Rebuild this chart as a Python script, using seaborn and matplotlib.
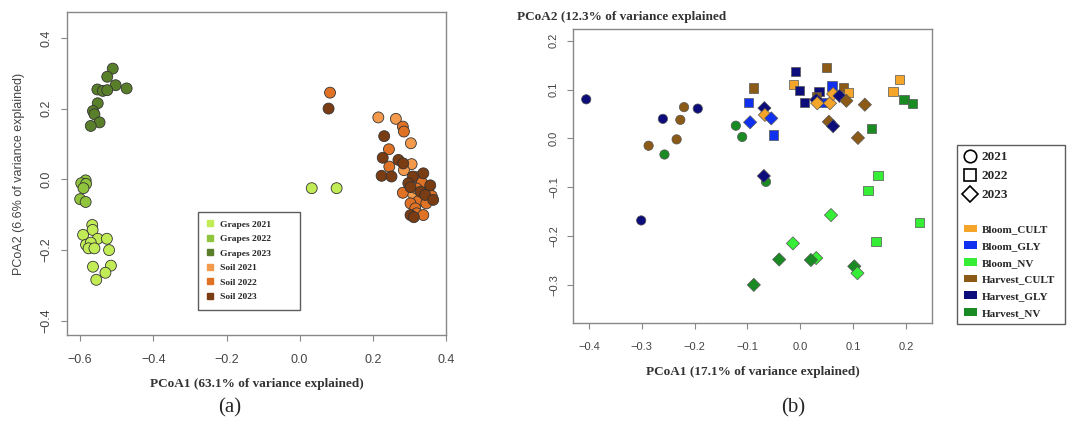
import numpy as np
import pandas as pd
import matplotlib
matplotlib.use("Agg")
import matplotlib.pyplot as plt
from matplotlib.lines import Line2D
from matplotlib.patches import Patch
import seaborn as sns

# ---------------- Panel (a) data ----------------
grapes2021_x = [-0.567, -0.566, -0.592, -0.552, -0.527, -0.584, -0.571, -0.577, -0.561, -0.521,
                -0.565, -0.516, -0.531, -0.556, 0.033, 0.101]
grapes2021_y = [-0.129, -0.143, -0.157, -0.168, -0.168, -0.185, -0.179, -0.195, -0.195, -0.200,
                -0.247, -0.244, -0.264, -0.284, -0.025, -0.025]
grapes2022_x = [-0.585, -0.597, -0.584, -0.591, -0.600, -0.585]
grapes2022_y = [-0.003, -0.011, -0.013, -0.025, -0.056, -0.064]
grapes2023_x = [-0.511, -0.526, -0.503, -0.473, -0.553, -0.538, -0.526, -0.552, -0.565, -0.561,
                -0.547, -0.571]
grapes2023_y = [0.313, 0.290, 0.266, 0.257, 0.254, 0.250, 0.252, 0.215, 0.193, 0.184, 0.161, 0.151]
soil2021_x = [0.215, 0.263, 0.304, 0.306, 0.285, 0.309]
soil2021_y = [0.175, 0.171, 0.102, 0.043, 0.026, -0.040]
soil2022_x = [0.083, 0.282, 0.285, 0.244, 0.245, 0.320, 0.334, 0.320, 0.282, 0.352, 0.361, 0.337,
              0.325, 0.303, 0.346, 0.316, 0.320, 0.338]
soil2022_y = [0.245, 0.149, 0.135, 0.085, 0.036, 0.006, -0.009, -0.026, -0.038, -0.035, -0.047,
              -0.049, -0.061, -0.068, -0.068, -0.082, -0.096, -0.101]
soil2023_x = [0.079, 0.231, 0.227, 0.270, 0.283, 0.224, 0.251, 0.309, 0.338, 0.297, 0.357, 0.303,
              0.331, 0.343, 0.365, 0.303, 0.312]
soil2023_y = [0.200, 0.122, 0.061, 0.055, 0.045, 0.010, 0.008, 0.008, 0.017, -0.011, -0.017, -0.022,
              -0.035, -0.044, -0.058, -0.101, -0.107]
groups_a = ["Grapes 2021", "Grapes 2022", "Grapes 2023", "Soil 2021", "Soil 2022", "Soil 2023"]
colors_a = ["#c2ec55", "#8fc43c", "#5a7f2a", "#f49a4c", "#e07226", "#7a3c12"]

# ---------------- Panel (b) data ----------------
# circles (2021)
b2021_x = [-0.405, -0.260, -0.220, -0.194, -0.227, -0.234, -0.287, -0.257, -0.122, -0.110, -0.065, -0.301]
b2021_y = [0.080, 0.040, 0.064, 0.061, 0.038, -0.002, -0.015, -0.033, 0.026, 0.003, -0.089, -0.168]
b2021_g = ["Harvest_GLY", "Harvest_GLY", "Harvest_CULT", "Harvest_GLY", "Harvest_CULT", "Harvest_CULT",
           "Harvest_CULT", "Harvest_NV", "Harvest_NV", "Harvest_NV", "Harvest_NV", "Harvest_GLY"]
# squares (2022)
b2022_x = [-0.088, -0.098, -0.051, -0.009, -0.013, -0.002, 0.008, 0.050, 0.035, 0.031, 0.043, 0.060,
           0.082, 0.091, 0.188, 0.175, 0.196, 0.212, 0.135, 0.147, 0.128, 0.225, 0.143]
b2022_y = [0.103, 0.073, 0.007, 0.137, 0.111, 0.098, 0.074, 0.145, 0.096, 0.085, 0.074, 0.107,
           0.104, 0.094, 0.121, 0.096, 0.079, 0.072, 0.020, -0.076, -0.106, -0.172, -0.211]
b2022_g = ["Harvest_CULT", "Bloom_GLY", "Bloom_GLY", "Harvest_GLY", "Bloom_CULT", "Harvest_GLY",
           "Harvest_GLY", "Harvest_CULT", "Harvest_GLY", "Harvest_CULT", "Bloom_GLY", "Bloom_GLY",
           "Harvest_CULT", "Bloom_CULT", "Bloom_CULT", "Bloom_CULT", "Harvest_NV", "Harvest_NV",
           "Harvest_NV", "Bloom_NV", "Bloom_NV", "Bloom_NV", "Bloom_NV"]
# diamonds (2023)
b2023_x = [-0.095, -0.068, -0.067, -0.055, -0.069, 0.030, 0.032, 0.056, 0.062, 0.074, 0.087, 0.054,
           0.062, 0.122, 0.109, 0.058, -0.014, 0.030, -0.040, 0.020, 0.102, 0.108, -0.088]
b2023_y = [0.033, 0.062, 0.048, 0.041, -0.077, 0.079, 0.072, 0.072, 0.091, 0.087, 0.077, 0.034,
           0.025, 0.069, 0.001, -0.157, -0.215, -0.245, -0.248, -0.249, -0.262, -0.276, -0.300]
b2023_g = ["Bloom_GLY", "Harvest_GLY", "Bloom_CULT", "Bloom_GLY", "Harvest_GLY", "Harvest_GLY",
           "Bloom_CULT", "Bloom_CULT", "Bloom_CULT", "Harvest_GLY", "Harvest_CULT", "Harvest_CULT",
           "Harvest_GLY", "Harvest_CULT", "Harvest_CULT", "Bloom_NV", "Bloom_NV", "Bloom_NV",
           "Harvest_NV", "Harvest_NV", "Harvest_NV", "Bloom_NV", "Harvest_NV"]
groups_b = ["Bloom_CULT", "Bloom_GLY", "Bloom_NV", "Harvest_CULT", "Harvest_GLY", "Harvest_NV"]
colors_b = ["#f5a52a", "#1030f0", "#35ee35", "#8b5a16", "#0c0c7a", "#1a8a22"]
years_b = ["2021", "2022", "2023"]
markers_b = ["o", "s", "D"]

# ---------------- build frames ----------------
xs_a = [grapes2021_x, grapes2022_x, grapes2023_x, soil2021_x, soil2022_x, soil2023_x]
ys_a = [grapes2021_y, grapes2022_y, grapes2023_y, soil2021_y, soil2022_y, soil2023_y]
df_a = pd.concat([pd.DataFrame({"x": x, "y": y, "group": g}) for x, y, g in zip(xs_a, ys_a, groups_a)],
                 ignore_index=True)
df_b = pd.concat([
    pd.DataFrame({"x": b2021_x, "y": b2021_y, "group": b2021_g, "year": "2021"}),
    pd.DataFrame({"x": b2022_x, "y": b2022_y, "group": b2022_g, "year": "2022"}),
    pd.DataFrame({"x": b2023_x, "y": b2023_y, "group": b2023_g, "year": "2023"}),
], ignore_index=True)

sns.set_style("white")
plt.rcParams["font.family"] = ["Liberation Sans", "DejaVu Sans"]
serif = ["Liberation Serif", "DejaVu Serif"]

fig = plt.figure(figsize=(10.67, 4.24), dpi=100)
W, H = 1067, 424
ax1 = fig.add_axes([67 / W, 1 - 335 / H, 379 / W, 323 / H])
ax2 = fig.add_axes([573 / W, 1 - 323 / H, 359 / W, 294 / H])


def fmt(v):
    s = f"{abs(v):.1f}"
    return ("\u2212" + s) if v < -1e-9 else s


# ---- panel (a)
sns.scatterplot(data=df_a, x="x", y="y", hue="group", hue_order=groups_a, palette=colors_a,
                s=62, edgecolor="#333333", linewidth=0.6, legend=False, ax=ax1, zorder=3)
ax1.set_xlim(-0.636, 0.40)
ax1.set_ylim(-0.44, 0.473)
xt = [-0.6, -0.4, -0.2, 0.0, 0.2, 0.4]
yt = [-0.4, -0.2, 0.0, 0.2, 0.4]
ax1.set_xticks(xt)
ax1.set_xticklabels([fmt(v) for v in xt])
ax1.set_yticks(yt)
ax1.set_yticklabels([fmt(v) for v in yt], rotation=90, va="center")
ax1.set_xlabel("PCoA1 (63.1% of variance explained)", family=serif, fontweight="bold",
               fontsize=9.5, color="#333333", labelpad=9)
ax1.set_ylabel("PCoA2 (6.6% of variance explained)", fontsize=9, color="#444444", labelpad=11)

handles_a = [Line2D([], [], marker="s", linestyle="", color=c, markersize=4.5) for c in colors_a]
leg_a = ax1.legend(handles_a, groups_a, loc="upper left",
                   bbox_to_anchor=(131 / 379, 123 / 323, 102 / 379, 0.001), mode="expand",
                   prop={"family": serif, "weight": "bold", "size": 6.8}, frameon=True,
                   fancybox=False, edgecolor="#333333", labelspacing=0.62, handlelength=0.8,
                   handletextpad=0.6, borderpad=0.9, borderaxespad=0)
leg_a.get_frame().set_linewidth(1.0)

# ---- panel (b)
sns.scatterplot(data=df_b, x="x", y="y", hue="group", hue_order=groups_b, palette=colors_b,
                style="year", style_order=years_b, markers=markers_b, s=45,
                edgecolor="#555555", linewidth=0.5, legend=False, ax=ax2, zorder=3)
ax2.set_xlim(-0.43, 0.249)
ax2.set_ylim(-0.378, 0.224)
xt2 = [-0.4, -0.3, -0.2, -0.1, 0.0, 0.1, 0.2]
yt2 = [-0.3, -0.2, -0.1, 0.0, 0.1, 0.2]
ax2.set_xticks(xt2)
ax2.set_xticklabels([fmt(v) for v in xt2])
ax2.set_yticks(yt2)
ax2.set_yticklabels([fmt(v) for v in yt2], rotation=90, va="center")
ax2.set_xlabel("PCoA1 (17.1% of variance explained)", family=serif, fontweight="bold",
               fontsize=9.5, color="#333333", labelpad=10)
ax2.set_ylabel("")
fig.text(517 / W, 1 - 17 / H, "PCoA2 (12.3% of variance explained", family=serif,
         fontweight="bold", fontsize=9.5, color="#333333", ha="left", va="center")

for ax, fs, px, py in ((ax1, 9, 9.5, 6.5), (ax2, 8, 9.5, 6)):
    for sp in ax.spines.values():
        sp.set_color("#888888")
        sp.set_linewidth(1.0)
    ax.tick_params(axis="both", which="both", length=4, width=0.8, color="#888888",
                   labelcolor="#444444", labelsize=fs, direction="out",
                   bottom=True, left=True)
    ax.tick_params(axis="x", pad=px)
    ax.tick_params(axis="y", pad=py)
    ax.grid(False)

shape_handles = [Line2D([], [], marker=m, linestyle="", markerfacecolor="white",
                        markeredgecolor="black", markeredgewidth=1.2, markersize=9 if m != "D" else 8)
                 for m in markers_b]
blank = Line2D([], [], linestyle="", marker="")
color_handles = [Patch(facecolor=c, edgecolor="none") for c in colors_b]
leg_b = fig.legend(shape_handles + [blank] + color_handles, years_b + [""] + groups_b,
                   loc="upper left", bbox_to_anchor=(957 / W, 1 - 145 / H, 108 / W, 0.001),
                   mode="expand",
                   prop={"family": serif, "weight": "bold", "size": 8}, frameon=True,
                   fancybox=False, edgecolor="#333333", labelspacing=0.62, handlelength=1.2,
                   handletextpad=0.4, borderpad=0.6, borderaxespad=0)
leg_b.get_frame().set_linewidth(1.0)
for t in leg_b.get_texts()[:3]:
    t.set_fontsize(9.5)

fig.text(230 / W, 1 - 408 / H, "(a)", family=serif, fontsize=15, ha="center", va="center")
fig.text(793 / W, 1 - 408 / H, "(b)", family=serif, fontsize=15, ha="center", va="center")

fig.savefig("out.png", dpi=100, facecolor="white")
